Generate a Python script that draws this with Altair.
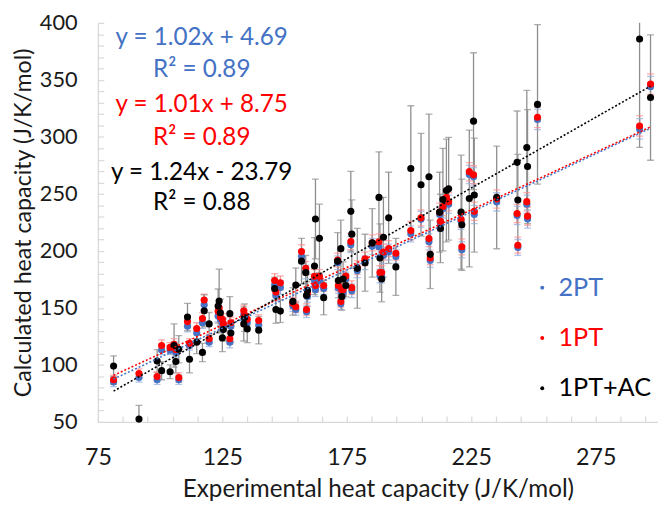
import altair as alt
import pandas as pd

# ---------------- data ----------------
X_EXP = [81.3, 91.5, 98.8, 100.6, 104.0, 105.6, 106.3, 107.5, 111.0, 111.8,
         114.7, 117.0, 117.7, 119.7, 123.3, 123.7, 124.2, 125.0, 125.4, 128.0,
         128.4, 133.6, 133.9, 135.0, 139.6, 146.0, 146.5, 148.3, 153.3, 154.5,
         156.8, 158.5, 158.8, 159.2, 162.0, 162.4, 164.0, 165.7, 171.3, 171.6,
         172.6, 173.0, 173.5, 174.6, 176.6, 177.0, 179.2, 182.3, 185.2, 187.9,
         188.3, 189.0, 189.7, 191.8, 194.7, 200.7, 204.8, 208.0, 208.5, 212.3,
         212.6, 213.6, 215.0, 215.9, 220.9, 221.2, 224.2, 225.9, 226.2, 235.2,
         243.4, 243.7, 247.3, 247.6, 251.6, 292.6, 297.0]

CP_2PT = [85, 89, 87, 113, 113, 115, 111, 87, 134, 117,
          128, 137, 152.8, 120, 143, 145.8, 140, 137, 134, 120,
          134, 144, 140, 137, 135, 170, 161, 168, 152, 148.6,
          195, 181.5, 146.6, 160, 174, 166, 174, 167, 189.6, 167.8,
          153.6, 163, 163, 175.4, 205.5, 165, 182.5, 189.6, 204, 203.6,
          178, 178, 196, 199, 195, 215, 227.7, 208, 191.5, 232,
          224, 237, 245, 241, 226, 201, 267, 265, 232, 243,
          231, 203, 241, 228, 315.3, 307, 344]

CP_1PT = [87, 92.5, 89.8, 117, 115.5, 118, 113.5, 89, 138, 119,
          132, 140.7, 157, 123, 147, 150, 142, 140, 136, 123,
          137, 147.5, 143, 140, 139, 174, 164, 172, 154, 151,
          199.4, 184.7, 148.6, 163, 177.7, 169.7, 177.7, 169.7, 192, 169.7,
          155.7, 166, 166, 178, 208.2, 167.8, 185.3, 193, 207, 208,
          181, 181, 199, 202, 198, 217.8, 229, 210.8, 193.8, 234,
          226, 239, 246.9, 243.2, 227.7, 203.6, 269.5, 266.7, 234.7, 245.5,
          232.8, 205, 243.2, 230.5, 317.2, 309.6, 346.3]

CP_1PTAC = [99, 52.5, 103.4, 95, 94, 117, 103, 113.8, 142, 105,
            120, 111, 147.5, 136, 151.6, 156, 145.8, 123.7, 131, 145,
            128, 136, 141.5, 131.6, 130.5, 167, 148.6, 147.2, 155.7, 170,
            191, 181, 161, 165.5, 186.7, 228, 211, 159, 191, 174,
            202, 160, 175.4, 169.7, 234.7, 214.7, 184.7, 189.6, 207, 246.9,
            193.8, 175.4, 212, 229, 186, 272.3, 258, 265, 197, 234,
            219.7, 245, 253, 254.5, 234, 222.9, 246, 313.8, 249, 246.9,
            277.7, 244.6, 290.7, 274, 328.5, 385.8, 334.5]

ERR_2PT = [4, 4, 4, 4, 4, 5, 4, 4, 5, 4,
           5, 5, 5, 4, 5, 5, 5, 5, 4, 5,
           5, 5, 5, 5, 5, 5, 5, 6, 5, 5,
           6, 6, 5, 5, 6, 6, 6, 5, 6, 5,
           5, 5, 5, 6, 7, 6, 6, 6, 7, 7,
           6, 6, 7, 7, 6, 7, 7, 7, 6, 7,
           7, 8, 8, 8, 7, 7, 8, 8, 8, 8,
           8, 7, 8, 8, 9, 9, 9]

ERR_1PT = [4, 4, 4, 5, 4, 5, 4, 4, 5, 4,
           5, 5, 5, 4, 5, 5, 5, 5, 4, 5,
           5, 5, 5, 5, 5, 6, 5, 6, 5, 5,
           6, 6, 5, 5, 6, 6, 6, 5, 6, 5,
           5, 5, 5, 6, 7, 6, 6, 6, 7, 7,
           6, 6, 7, 7, 6, 8, 7, 7, 6, 8,
           7, 8, 8, 8, 7, 7, 8, 8, 8, 8,
           8, 7, 8, 8, 9, 9, 9]

ERR_1PTAC = [9, 12, 10, 8, 6, 19, 10, 12, 12, 12,
             10, 8, 14, 10, 15, 28, 12, 12, 10, 15,
             8, 15, 12, 12, 12, 10, 12, 10, 12, 15,
             20, 15, 12, 14, 25, 35, 30, 15, 25, 15,
             25, 12, 15, 10, 35, 30, 35, 25, 30, 40,
             30, 20, 35, 40, 25, 55, 45, 55, 30, 35,
             30, 45, 45, 45, 50, 40, 60, 60, 50, 45,
             45, 40, 50, 50, 70, 95, 55]

SERIES = ["2PT", "1PT", "1PT+AC"]
COLORS = ["#4472C4", "#FF0000", "#000000"]
BAR_COLORS = ["#93acdc", "#ff8a8a", "#8e8e8e"]
SLOPES = [1.02, 1.01, 1.24]
INTERCEPTS = [4.69, 8.75, -23.79]
EQ_TEXT = ["y = 1.02x + 4.69", "y = 1.01x + 8.75", "y = 1.24x - 23.79"]
R2_TEXT = ["R² = 0.89", "R² = 0.89", "R² = 0.88"]
X_TICKS = [75, 125, 175, 225, 275]
Y_TICKS = [50, 100, 150, 200, 250, 300, 350, 400]
X_MINOR = list(range(75, 300, 10))
Y_MINOR = list(range(50, 401, 10))

for lst in (CP_2PT, CP_1PT, CP_1PTAC, ERR_2PT, ERR_1PT, ERR_1PTAC):
    assert len(lst) == len(X_EXP), len(lst)

# ---------------- tables ----------------
rows = []
for k, (s, vals, errs) in enumerate(zip(SERIES, [CP_2PT, CP_1PT, CP_1PTAC],
                                         [ERR_2PT, ERR_1PT, ERR_1PTAC])):
    for x, v, e in zip(X_EXP, vals, errs):
        rows.append({"series": s, "k": k, "x": x, "y": v, "lo": v - e, "hi": v + e})
df = pd.DataFrame(rows)

trend = pd.DataFrame(
    [{"series": s, "slope": m, "intercept": b, "x": xx}
     for s, m, b in zip(SERIES, SLOPES, INTERCEPTS)
     for xx in (min(X_EXP), max(X_EXP))]
)

FONT = "Lato"
FS = 23.5
TXT = "#1a1a1a"
AX = "#d9d9d9"

xs = alt.Scale(domain=[75, 300], nice=False, zero=False)
ys = alt.Scale(domain=[50, 400], nice=False, zero=False)
col_pts = alt.Scale(domain=SERIES, range=COLORS)
col_bar = alt.Scale(domain=SERIES, range=BAR_COLORS)

x_main = alt.Axis(values=X_TICKS, title="Experimental heat capacity (J/K/mol)", grid=False,
                  ticks=False, domainColor=AX, domainWidth=1.3, labelPadding=24,
                  labelFontSize=FS, titleFontSize=24.5, titlePadding=9, labelFlush=False)
y_main = alt.Axis(values=Y_TICKS, title="Calculated heat capacity (J/K/mol)", grid=False,
                  ticks=False, domainColor=AX, domainWidth=1.3, labelPadding=21,
                  labelFontSize=22, titleFontSize=FS,
                  titleX=-63, titleBaseline="bottom", labelFlush=False)
x_minor = alt.Axis(values=X_MINOR, orient="bottom", offset=-6, tickSize=6, tickColor=AX,
                   tickWidth=1.2, labels=False, domain=False, title=None, grid=False)
y_minor = alt.Axis(values=Y_MINOR, orient="left", offset=-6, tickSize=6, tickColor=AX,
                   tickWidth=1.2, labels=False, domain=False, title=None, grid=False)

base = alt.Chart(df)

bars = base.mark_rule(clip=True, strokeWidth=1.3).encode(
    x=alt.X("x:Q", scale=xs, axis=None),
    y=alt.Y("lo:Q", scale=ys, axis=None),
    y2="hi:Q",
    color=alt.Color("series:N", scale=col_bar, legend=None),
    order=alt.Order("k:Q"),
)
cap_lo = base.mark_tick(orient="horizontal", size=7, thickness=1.3, clip=True).encode(
    x=alt.X("x:Q", scale=xs, axis=None),
    y=alt.Y("lo:Q", scale=ys, axis=None),
    color=alt.Color("series:N", scale=col_bar, legend=None),
)
cap_hi = base.mark_tick(orient="horizontal", size=7, thickness=1.3, clip=True).encode(
    x=alt.X("x:Q", scale=xs, axis=None),
    y=alt.Y("hi:Q", scale=ys, axis=None),
    color=alt.Color("series:N", scale=col_bar, legend=None),
)
points = base.mark_circle(size=52, opacity=1).encode(
    x=alt.X("x:Q", scale=xs, axis=x_main),
    y=alt.Y("y:Q", scale=ys, axis=y_main),
    color=alt.Color("series:N", scale=col_pts, legend=None),
    order=alt.Order("k:Q"),
)
lines = alt.Chart(trend).mark_line(strokeDash=[2, 2], strokeWidth=1.6).transform_calculate(
    yfit="datum.slope * datum.x + datum.intercept"
).encode(
    x=alt.X("x:Q", scale=xs, axis=x_minor),
    y=alt.Y("yfit:Q", scale=ys, axis=y_minor),
    color=alt.Color("series:N", scale=col_pts, legend=None),
    detail="series:N",
)

layers = [bars, cap_lo, cap_hi, points, lines]

# equation annotations (top-left)
ANN_X = 116.7
ANN_Y = [387.0, 358.4, 328.1, 298.6, 268.3, 242.3]
for i, (eq, r2, c) in enumerate(zip(EQ_TEXT, R2_TEXT, COLORS)):
    for j, t in enumerate((eq, r2)):
        layers.append(
            alt.Chart(pd.DataFrame({"label": [t]})).mark_text(
                font=FONT, fontSize=FS + 1, color=c, align="center", baseline="middle"
            ).encode(
                x=alt.X(datum=ANN_X, scale=xs, axis=None),
                y=alt.Y(datum=ANN_Y[2 * i + j], scale=ys, axis=None),
                text="label:N",
            )
        )

# custom legend (right)
LEG_DOT_X = 253.5
LEG_TXT_X = 260.0
LEG_Y0 = 167.8
LEG_STEP = 44.1
for i, (s, c) in enumerate(zip(SERIES, COLORS)):
    yy = LEG_Y0 - i * LEG_STEP
    one = pd.DataFrame({"label": [s]})
    layers.append(
        alt.Chart(one).mark_circle(size=16, opacity=1, color=c).encode(
            x=alt.X(datum=LEG_DOT_X, scale=xs, axis=None),
            y=alt.Y(datum=yy, scale=ys, axis=None),
        )
    )
    layers.append(
        alt.Chart(one).mark_text(font=FONT, fontSize=FS + 2, color=c, align="left",
                                 baseline="middle").encode(
            x=alt.X(datum=LEG_TXT_X, scale=xs, axis=None),
            y=alt.Y(datum=yy, scale=ys, axis=None),
            text="label:N",
        )
    )

chart = alt.layer(*layers).resolve_axis(
    x="independent", y="independent"
).resolve_scale(color="independent").properties(
    width=567, height=404,
    autosize=alt.AutoSizeParams(type="none"),
    padding={"left": 91, "top": 12, "right": 0, "bottom": 79},
).configure_view(stroke=None).configure_axis(
    labelFont=FONT, titleFont=FONT,
    labelColor=TXT, titleColor=TXT, titleFontWeight="normal",
)

chart.save("out.html", embed_options={"renderer": "svg", "actions": False})
